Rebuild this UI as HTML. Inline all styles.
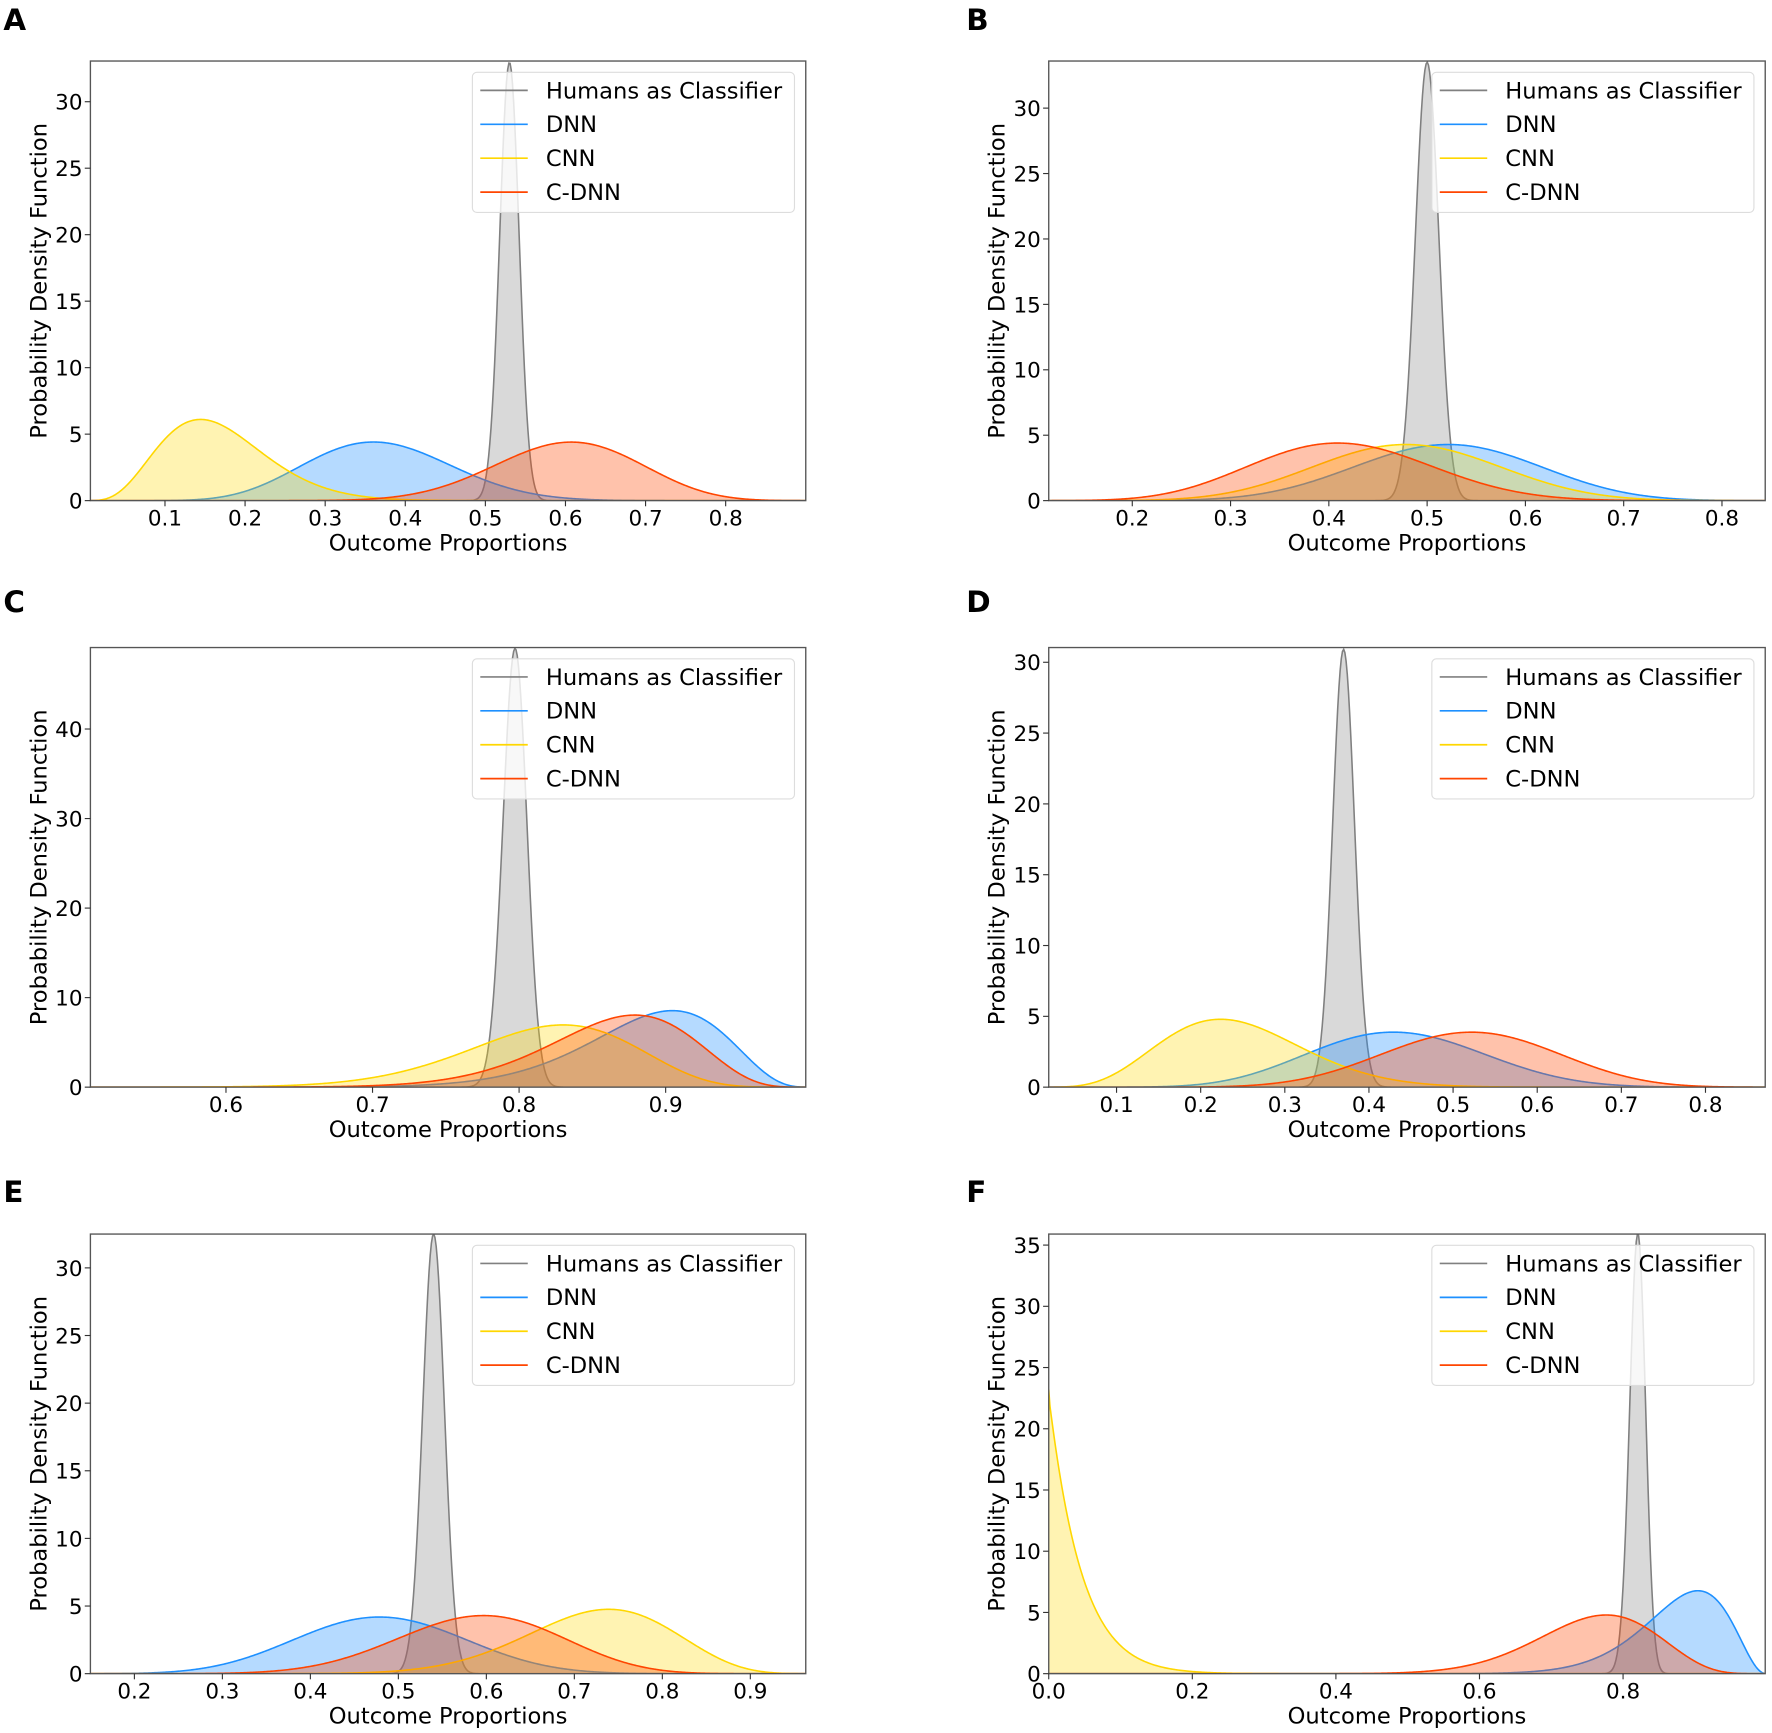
<!DOCTYPE html>
<html><head><meta charset="utf-8"><style>
html,body{margin:0;padding:0;background:#fff}
svg{display:block}
text{font-family:"DejaVu Sans","Liberation Sans",sans-serif;fill:#000}
</style></head><body>
<svg id="fig" width="1772" height="1733" viewBox="0 0 1568 1533.5" preserveAspectRatio="none" xmlns="http://www.w3.org/2000/svg"></svg>
<script>
// Series order: Humans as Classifier, DNN, CNN, C-DNN
const seriesNames = ["Humans as Classifier","DNN","CNN","C-DNN"];
// means per panel (A..F)
const meansA = [0.53, 0.37, 0.168, 0.60];
const meansB = [0.50, 0.52, 0.48, 0.415];
const meansC = [0.797, 0.885, 0.815, 0.862];
const meansD = [0.37, 0.435, 0.245, 0.52];
const meansE = [0.54, 0.48, 0.722, 0.59];
const meansF = [0.82, 0.874, 0.042, 0.755];
// standard deviations per panel
const sdsA = [0.0121, 0.0886, 0.067, 0.0886];
const sdsB = [0.0119, 0.0907, 0.0907, 0.0886];
const sdsC = [0.00814, 0.049, 0.058, 0.051];
const sdsD = [0.0129, 0.0997, 0.083, 0.0997];
const sdsE = [0.01227, 0.0928, 0.083, 0.0907];
const sdsF = [0.0111, 0.063, 0.0402, 0.083];
// tick labels
const xticksA = [0.1,0.2,0.3,0.4,0.5,0.6,0.7,0.8];
const xticksB = [0.2,0.3,0.4,0.5,0.6,0.7,0.8];
const xticksC = [0.6,0.7,0.8,0.9];
const xticksD = [0.1,0.2,0.3,0.4,0.5,0.6,0.7,0.8];
const xticksE = [0.2,0.3,0.4,0.5,0.6,0.7,0.8,0.9];
const xticksF = [0.0,0.2,0.4,0.6,0.8];
const yticksA = [0,5,10,15,20,25,30];
const yticksB = [0,5,10,15,20,25,30];
const yticksC = [0,10,20,30,40];
const yticksD = [0,5,10,15,20,25,30];
const yticksE = [0,5,10,15,20,25,30];
const yticksF = [0,5,10,15,20,25,30,35];

const panels = [
 {id:"A",means:meansA,sds:sdsA,xt:xticksA,yt:yticksA,x0:0.0069,x1:0.9,y1:33.06,L:80,R:713,T:54,B:443,lx:3,ly:19,dec:1},
 {id:"B",means:meansB,sds:sdsB,xt:xticksB,yt:yticksB,x0:0.115,x1:0.844,y1:33.6,L:928,R:1562,T:54,B:443,lx:855,ly:19,dec:1},
 {id:"C",means:meansC,sds:sdsC,xt:xticksC,yt:yticksC,x0:0.5075,x1:0.9956,y1:49.1,L:80,R:713,T:573,B:962,lx:3,ly:534,dec:1},
 {id:"D",means:meansD,sds:sdsD,xt:xticksD,yt:yticksD,x0:0.0194,x1:0.871,y1:31.04,L:928,R:1562,T:573,B:962,lx:855,ly:534,dec:1},
 {id:"E",means:meansE,sds:sdsE,xt:xticksE,yt:yticksE,x0:0.15,x1:0.963,y1:32.5,L:80,R:713,T:1092,B:1481,lx:3,ly:1056,dec:1},
 {id:"F",means:meansF,sds:sdsF,xt:xticksF,yt:yticksF,x0:0.0,x1:0.998,y1:35.9,L:928,R:1562,T:1092,B:1481,lx:855,ly:1056,dec:1}
];
const lineCols = ["#808080","#1E90FF","#FFD700","#FF4500"];
const fillCols = ["rgba(192,192,192,0.6)","rgba(30,144,255,0.33)","rgba(255,215,0,0.3)","rgba(255,69,0,0.33)"];
const NS="http://www.w3.org/2000/svg";
const svg=document.getElementById("fig");
function mk(tag,attrs,parent){const e=document.createElementNS(NS,tag);for(const k in attrs)e.setAttribute(k,attrs[k]);(parent||svg).appendChild(e);return e;}
function lgamma(z){const g=7,c=[0.99999999999980993,676.5203681218851,-1259.1392167224028,771.32342877765313,-176.61556509744166,12.507343278686905,-0.13857109526572012,9.9843695780195716e-6,1.5056327351493116e-7];
 if(z<0.5)return Math.log(Math.PI/Math.sin(Math.PI*z))-lgamma(1-z);z-=1;let x=c[0];for(let i=1;i<g+2;i++)x+=c[i]/(z+i);const t=z+g+0.5;return 0.5*Math.log(2*Math.PI)+(z+0.5)*Math.log(t)-t+Math.log(x);}
function betaPdf(x,m,s){const k=m*(1-m)/(s*s)-1;const a=m*k,b=(1-m)*k;if(x<=0)return a<=1.05?Math.exp(lgamma(a+b)-lgamma(a)-lgamma(b)):0;if(x>=1)return 0;
 return Math.exp((a-1)*Math.log(x)+(b-1)*Math.log(1-x)+lgamma(a+b)-lgamma(a)-lgamma(b));}

panels.forEach(p=>{
 const g=mk("g",{});
 
 
 const sx=v=>p.L+(v-p.x0)/(p.x1-p.x0)*(p.R-p.L);
 const sy=v=>p.B-v/p.y1*(p.B-p.T);
 const lt=mk("text",{x:p.lx,y:p.ly,"font-size":26,"font-weight":"bold","font-family":"Liberation Sans, sans-serif","dominant-baseline":"middle"},g);
 lt.textContent=p.id;
 
 
 const cid="clip"+p.id;
 const cp=mk("clipPath",{id:cid},g);mk("rect",{x:p.L,y:p.T,width:p.R-p.L,height:p.B-p.T},cp);
 const plot=mk("g",{"clip-path":"url(#"+cid+")"},g);
 const N=600;
 for(let si=0;si<4;si++){
  let pts=[];
  for(let i=0;i<=N;i++){const x=p.x0+(p.x1-p.x0)*i/N;let y=betaPdf(x,p.means[si],p.sds[si]);if(!isFinite(y))y=0;y=Math.min(y,p.y1*3);pts.push([sx(x),sy(y)]);}
  const d=pts.map((q,i)=>(i?"L":"M")+q[0].toFixed(2)+","+q[1].toFixed(2)).join("");
  const f=mk("path",{d:d+"L"+sx(p.x1)+","+sy(0)+"L"+sx(p.x0)+","+sy(0)+"Z",fill:fillCols[si],stroke:"none"},plot);
  
  
  const l=mk("path",{d:d,fill:"none",stroke:lineCols[si],"stroke-width":1.4},plot);
  
  
 }
 const fr=mk("rect",{x:p.L,y:p.T,width:p.R-p.L,height:p.B-p.T,fill:"none",stroke:"#555","stroke-width":1.2},g);
 
 
 p.xt.forEach(v=>{const x=sx(v);mk("line",{x1:x,x2:x,y1:p.B,y2:p.B+5,stroke:"#333"},g);
  const t=mk("text",{x:x,y:p.B+22,"font-size":19,"text-anchor":"middle"},g);t.textContent=v.toFixed(p.dec);
  
  });
 p.yt.forEach(v=>{const y=sy(v);mk("line",{x1:p.L-5,x2:p.L,y1:y,y2:y,stroke:"#333"},g);
  const t=mk("text",{x:p.L-7,y:y+7,"font-size":19,"text-anchor":"end"},g);t.textContent=v;
  
  });
 const xl=mk("text",{x:(p.L+p.R)/2,y:p.B+44,"font-size":20,"text-anchor":"middle"},g);xl.textContent="Outcome Proportions";
 
 
 const yc=(p.T+p.B)/2;
 const yl=mk("text",{x:p.L-39,y:yc,"font-size":20,"text-anchor":"middle",transform:"rotate(-90 "+(p.L-39)+" "+yc+")"},g);yl.textContent="Probability Density Function";
 
 
 const lx=(p.L<500)?418:1267;const ly=p.T+10;
 const lg=mk("g",{},g);
 
 
 mk("rect",{x:lx,y:ly,width:285,height:124,rx:4,fill:"rgba(255,255,255,0.8)",stroke:"#ddd"},lg);
 seriesNames.forEach((n,i)=>{const yy=ly+16+i*30;
  mk("line",{x1:lx+7,x2:lx+49,y1:yy,y2:yy,stroke:lineCols[i],"stroke-width":1.5},lg);
  const t=mk("text",{x:lx+65,y:yy+7,"font-size":20},lg);t.textContent=n;
  
  });
});
</script>
</body></html>
